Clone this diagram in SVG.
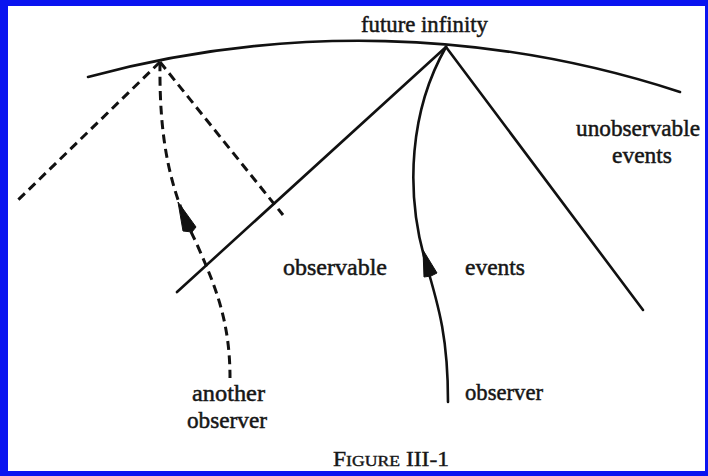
<svg xmlns="http://www.w3.org/2000/svg" width="708" height="476" viewBox="0 0 708 476">
<style>
.solid{fill:none;stroke:#111;stroke-width:2.6;stroke-linecap:round}
.dash{fill:none;stroke:#111;stroke-width:3;stroke-dasharray:9 5.5}
.head{fill:#111;stroke:#111;stroke-width:1;stroke-linejoin:round}
.lbl{font-family:"Liberation Serif","Times New Roman",serif;font-size:24px;fill:#161616;stroke:#161616;stroke-width:0.5}
.cap{font-family:"Liberation Serif","Times New Roman",serif;fill:#161616;stroke:#161616;stroke-width:0.4}
</style>
<rect x="0" y="0" width="708" height="476" fill="#0a14f0"/>
<rect x="8" y="6" width="697" height="465" fill="#fff"/>
<g id="future-infinity">
<path class="solid" d="M88,77 A1032,1032 0 0 1 680,92"/>
<text class="lbl" x="361" y="32" textLength="127" lengthAdjust="spacingAndGlyphs">future infinity</text>
</g>
<g id="connectors">
<path class="dash" d="M160,62 L15,203"/>
<path class="dash" d="M160,62 L283,215"/>
<path class="dash" d="M160,62 C159,140 170,190 195,240 C215,285 230,320 230,378"/>
<polygon class="head" points="178,202 196,227 192,232 183,231"/>
<path class="solid" d="M446,47 L177,292"/>
<path class="solid" d="M446,47 L643,310"/>
<path class="solid" d="M446,47 C410,110 405,190 425,260 C440,310 448,340 448,402"/>
<polygon class="head" points="423,250 437,273 431,276 424,277"/>
</g>
<g id="label-unobservable">
<text class="lbl" x="576" y="136" textLength="124" lengthAdjust="spacingAndGlyphs">unobservable</text>
<text class="lbl" x="612" y="163" textLength="60" lengthAdjust="spacingAndGlyphs">events</text>
</g>
<g id="label-observable">
<text class="lbl" x="283" y="275" textLength="104" lengthAdjust="spacingAndGlyphs">observable</text>
<text class="lbl" x="465" y="275" textLength="60" lengthAdjust="spacingAndGlyphs">events</text>
</g>
<g id="another-observer">
<text class="lbl" x="192" y="401" textLength="73" lengthAdjust="spacingAndGlyphs">another</text>
<text class="lbl" x="187" y="428" textLength="80" lengthAdjust="spacingAndGlyphs">observer</text>
</g>
<g id="observer">
<text class="lbl" x="465" y="400" textLength="78" lengthAdjust="spacingAndGlyphs">observer</text>
</g>
<g id="caption">
<text class="cap" x="333" y="466" textLength="116" lengthAdjust="spacingAndGlyphs"><tspan font-size="20">F</tspan><tspan font-size="15">IGURE</tspan><tspan font-size="20"> III-1</tspan></text>
</g>
</svg>
